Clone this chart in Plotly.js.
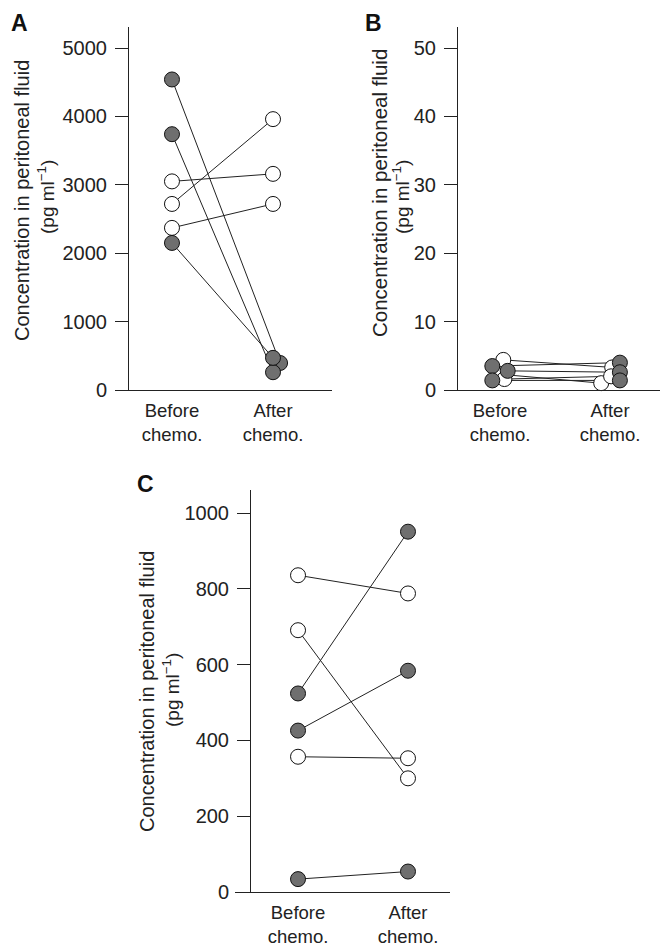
<!DOCTYPE html>
<html>
<head>
<meta charset="utf-8">
<script src="https://cdn.plot.ly/plotly-3.0.1.min.js"></script>
<style>html,body{margin:0;padding:0;background:#fff;}#chart{width:661px;height:946px;}</style>
</head>
<body>
<div id="chart"></div>
<script>
// ---------- data ----------
const xCategories = ["Before<br>chemo.", "After<br>chemo."];
const yTitleLine1 = "Concentration in peritoneal fluid";
const yTitleLine2 = "(pg ml<sup>−1</sup>)";

// Panel A (pg/ml)
const aBefore = [4540, 3740, 2150, 3050, 2720, 2370];
const aAfter  = [395, 260, 470, 3160, 3960, 2720];
const aType   = ["filled", "filled", "filled", "open", "open", "open"];
const aJitterBefore = [0, 0, 0, 0, 0, 0];
const aJitterAfter  = [0.07, 0, 0, 0, 0, 0];
const aTicks = [0, 1000, 2000, 3000, 4000, 5000];

// Panel B (pg/ml)
const bBefore = [3.5, 2.8, 1.4, 4.4, 2.3, 1.6];
const bAfter  = [4.0, 2.6, 1.4, 3.3, 1.0, 2.0];
const bType   = ["filled", "filled", "filled", "open", "open", "open"];
const bJitterBefore = [-0.07, 0.07, -0.07, 0.03, 0, 0.04];
const bJitterAfter  = [0.09, 0.09, 0.09, 0.02, -0.08, 0.01];
const bTicks = [0, 10, 20, 30, 40, 50];

// Panel C (pg/ml)
const cBefore = [524, 426, 34, 836, 691, 357];
const cAfter  = [951, 584, 54, 788, 300, 353];
const cType   = ["filled", "filled", "filled", "open", "open", "open"];
const cJitterBefore = [0, 0, 0, 0, 0, 0];
const cJitterAfter  = [0, 0, 0, 0, 0, 0];
const cTicks = [0, 200, 400, 600, 800, 1000];

// ---------- styles ----------
const FONT = '"Liberation Sans", Arial, Helvetica, sans-serif';
const FILL_GRAY = '#6f6f6f';
const W = 661, H = 946;
const px = v => v / W;
const py = v => 1 - v / H;

const traces = [];
function addPanel(before, after, types, jb, ja, xa, ya) {
  for (let i = 0; i < before.length; i++) {
    traces.push({
      x: [0 + jb[i], 1 + ja[i]], y: [before[i], after[i]],
      xaxis: xa, yaxis: ya, mode: 'lines', type: 'scatter',
      line: {color: '#222', width: 1}, hoverinfo: 'skip', cliponaxis: false
    });
  }
  ['open', 'filled'].forEach(kind => {
    const xs = [], ys = [];
    for (let i = 0; i < before.length; i++) {
      if (types[i] !== kind) continue;
      xs.push(0 + jb[i], 1 + ja[i]);
      ys.push(before[i], after[i]);
    }
    traces.push({
      x: xs, y: ys, xaxis: xa, yaxis: ya, mode: 'markers', type: 'scatter',
      cliponaxis: false,
      marker: {size: 15, color: kind === 'filled' ? FILL_GRAY : '#ffffff',
               line: {color: '#111', width: 1}}
    });
  });
}
addPanel(aBefore, aAfter, aType, aJitterBefore, aJitterAfter, 'x', 'y');
addPanel(bBefore, bAfter, bType, bJitterBefore, bJitterAfter, 'x2', 'y2');
addPanel(cBefore, cAfter, cType, cJitterBefore, cJitterAfter, 'x3', 'y3');

function xAxis(domain, range, anchor) {
  return {
    domain: domain, range: range, anchor: anchor,
    showline: true, linecolor: '#222', linewidth: 1,
    showgrid: false, zeroline: false,
    tickmode: 'array', tickvals: [0, 1], ticktext: xCategories,
    ticks: '', ticklabelstandoff: 4,
    tickfont: {family: FONT, size: 18.5, color: '#222'}, fixedrange: true
  };
}
function yAxis(domain, range, pos, ticks) {
  return {
    domain: domain, range: range, anchor: 'free', position: pos,
    showline: true, linecolor: '#222', linewidth: 1,
    showgrid: false, zeroline: false,
    tickmode: 'array', tickvals: ticks, ticktext: ticks.map(String),
    ticks: 'outside', ticklen: 13, tickcolor: '#222', tickwidth: 1,
    ticklabelstandoff: 4,
    tickfont: {family: FONT, size: 20, color: '#222'}, fixedrange: true
  };
}

const topDomain = [py(390), py(27)];
const layout = {
  width: W, height: H,
  margin: {l: 0, r: 0, t: 0, b: 0},
  paper_bgcolor: '#fff', plot_bgcolor: 'rgba(0,0,0,0)',
  showlegend: false,
  xaxis:  xAxis([px(115), px(332)], [-0.564, 1.584], 'y'),
  yaxis:  yAxis(topDomain, [0, 5307], px(128), aTicks),
  xaxis2: xAxis([px(445), px(660)], [-0.5, 1.4545], 'y2'),
  yaxis2: yAxis(topDomain, [0, 53.07], px(457), bTicks),
  xaxis3: xAxis([px(235), px(450)], [-0.573, 1.382], 'y3'),
  yaxis3: yAxis([py(892), py(490)], [0, 1061], px(250), cTicks),
  annotations: [
    {text: '<b>A</b>', x: px(19), y: py(23)},
    {text: '<b>B</b>', x: px(373), y: py(23)},
    {text: '<b>C</b>', x: px(145), y: py(484)},
  ].map(a => Object.assign(a, {xref: 'paper', yref: 'paper', showarrow: false,
      xanchor: 'center', yanchor: 'middle', font: {family: FONT, size: 23, color: '#111'}}))
  .concat([
    {text: yTitleLine1, x: px(22), y: py(201), size: 20},
    {text: yTitleLine2, x: px(46), y: py(197), size: 19},
    {text: yTitleLine1, x: px(380), y: py(193), size: 20.5},
    {text: yTitleLine2, x: px(401), y: py(197), size: 19},
    {text: yTitleLine1, x: px(147), y: py(692), size: 20},
    {text: yTitleLine2, x: px(171), y: py(690), size: 19},
  ].map(a => ({text: a.text, x: a.x, y: a.y, xref: 'paper', yref: 'paper',
      showarrow: false, textangle: -90, xanchor: 'center', yanchor: 'middle',
      font: {family: FONT, size: a.size, color: '#222'}})))
};

Plotly.newPlot('chart', traces, layout, {staticPlot: true, displayModeBar: false});
</script>
</body>
</html>
